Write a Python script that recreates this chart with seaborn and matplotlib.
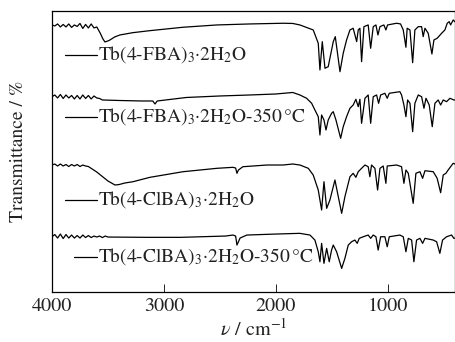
import matplotlib
matplotlib.use("Agg")
import matplotlib.pyplot as plt
import seaborn as sns

# -----------------------------
# Data
# wavenumber (cm-1) and stacked transmittance (a.u.)
# -----------------------------

fba_wn = [4000, 3975, 3950, 3925, 3900, 3875, 3850, 3825, 3800, 3775, 3750, 3725, 3700, 3675,
          3650, 3625, 3600, 3570, 3545, 3527, 3500, 3482, 3440, 3393, 3277, 3125, 2830, 2527,
          2232, 1937, 1850, 1786, 1667, 1622, 1607, 1586, 1562, 1533, 1488, 1470, 1428, 1399,
          1369, 1339, 1310, 1279, 1265, 1250, 1235, 1214, 1176, 1154, 1131, 1107, 1089, 1071,
          1036, 1018, 1003, 922, 887, 863, 839, 828, 803, 779, 759, 729, 699, 685, 669, 640,
          607, 589, 560, 520, 491, 470, 453, 440, 417, 400]
fba_t = [267, 266, 268, 265, 267.5, 265, 268, 264.5, 267, 265.5, 268.5, 263.5, 267.5, 264,
         268, 264, 265, 259, 253, 250, 251, 252, 255, 257, 259.3, 261.3, 264.7, 267,
         268, 268.7, 268.5, 267, 262, 248.7, 222, 250.3, 223.7, 225.3, 250.3, 255.3, 220.3, 238.7,
         252, 262, 263.7, 250.3, 262, 263.7, 230.3, 265.3, 267, 243.7, 265.3, 267, 257, 265.3,
         267, 262, 267, 268.7, 268, 262, 244.7, 263.7, 262, 229.3, 262, 265.3, 265.3, 255.3, 263.7, 258.7,
         238, 252, 253.7, 258.7, 262, 268.7, 270.3, 267, 272, 270]

fba350_wn = [4000, 3975, 3950, 3925, 3900, 3875, 3850, 3825, 3800, 3775, 3750, 3725, 3700, 3675,
             3650, 3625, 3600, 3575, 3550, 3400, 3200, 3100, 3080, 3060, 2800, 2500, 2232, 2000,
             1850, 1786, 1726, 1681, 1652, 1622, 1607, 1592, 1571, 1553, 1533, 1503, 1488, 1464,
             1422, 1399, 1369, 1339, 1310, 1286, 1265, 1250, 1235, 1205, 1176, 1154, 1131, 1101,
             1083, 1065, 1027, 1006, 988, 893, 878, 857, 839, 824, 803, 779, 759, 729, 699, 678,
             660, 631, 604, 580, 551, 529, 506, 476, 446, 411, 400]
fba350_t = [195.3, 197, 194, 197.5, 193.5, 197, 194, 196.5, 193, 196.5, 193, 197, 193.5, 196.5,
            193, 196, 194, 193.5, 192, 191.5, 191, 191, 188, 191, 194.5, 196, 197, 198,
            199.5, 197, 193.7, 188.7, 182, 175.3, 157, 177, 172, 162, 172, 178.7, 180.3, 172,
            153.7, 165.3, 175.3, 183.7, 187, 192.7, 185.3, 192.7, 168.7, 193.7, 197, 168.7, 195.3, 197,
            188.7, 197, 198.7, 193.7, 198.7, 200.3, 197, 187, 175.3, 192, 188.7, 160.3, 188.7, 197, 195.3, 183.7,
            193.7, 187, 165.3, 188.7, 192, 187, 192, 190.3, 193.7, 192, 192]

clba_wn = [4000, 3975, 3950, 3925, 3900, 3875, 3850, 3825, 3800, 3775, 3750, 3725, 3700, 3675,
           3600, 3550, 3500, 3437, 3400, 3350, 3277, 3125, 2830, 2527, 2384, 2360, 2348, 2335,
           2295, 2080, 1937, 1850, 1786, 1711, 1667, 1622, 1592, 1571, 1547, 1518, 1473, 1413,
           1384, 1339, 1310, 1286, 1265, 1235, 1205, 1176, 1161, 1146, 1116, 1092, 1071, 1042,
           1018, 1006, 922, 878, 857, 839, 818, 774, 750, 714, 690, 669, 595, 560, 529, 506,
           482, 462, 440, 417, 400]
clba_t = [127, 128, 126, 128, 126, 127.5, 125.5, 127.5, 126, 127.5, 125.5, 127, 126, 125.5,
          120, 115.5, 111, 107, 107.5, 109, 110.3, 114.7, 120.3, 123.7, 124.7, 124, 118.7, 122,
          125.3, 127, 127, 128, 127, 123.7, 117, 102, 82, 110.3, 83.7, 92, 112, 78.7,
          95.3, 115.3, 118.7, 114.7, 120.3, 123.7, 127, 125.3, 115.3, 127, 123.7, 102, 123.7, 126,
          108.7, 126, 127, 125.3, 108.7, 122, 118.7, 88.7, 118.7, 120.3, 113.7, 121.3, 120.3, 113.7, 99.3, 117,
          118.7, 122, 125.3, 128.7, 128]

clba350_wn = [4000, 3975, 3950, 3925, 3900, 3875, 3850, 3825, 3800, 3775, 3750, 3725, 3700, 3675,
              3650, 3625, 3600, 3575, 3550, 3525, 3500, 3150, 2850, 2450, 2384, 2360, 2348, 2320,
              2260, 2000, 1850, 1786, 1696, 1652, 1622, 1607, 1592, 1571, 1547, 1524, 1503, 1488,
              1458, 1413, 1384, 1354, 1324, 1295, 1274, 1256, 1220, 1176, 1154, 1131, 1107, 1087,
              1065, 1027, 1006, 988, 893, 863, 839, 818, 788, 768, 744, 714, 690, 669, 595, 565,
              536, 512, 476, 431, 411, 400]
clba350_t = [55.3, 57.5, 54, 58, 53.5, 57.5, 54, 57, 54, 56.5, 54, 57, 54.5, 56.5,
             54.5, 56, 55, 56, 54.5, 56, 55, 54.7, 54.7, 56, 57, 56, 47, 54,
             57, 58, 58.5, 58.7, 57, 52, 40.3, 30.3, 48.7, 28.7, 43.7, 30.3, 42, 47,
             40.3, 23.7, 33.7, 47, 50.3, 52, 48.7, 53.7, 55.3, 57, 53.7, 57, 55.3, 42,
             55.3, 55.3, 45.3, 55.3, 57, 55.3, 40.3, 53.7, 52, 30.3, 52, 53.7, 48.7, 53.7, 52, 50.3,
             38.7, 52, 55.3, 57, 53.7, 54]

labels = [
    r"Tb(4-FBA)$_3$·2H$_2$O",
    r"Tb(4-FBA)$_3$·2H$_2$O-350$\,$°C",
    r"Tb(4-ClBA)$_3$·2H$_2$O",
    r"Tb(4-ClBA)$_3$·2H$_2$O-350$\,$°C",
]
xticks = [4000, 3000, 2000, 1000]

# -----------------------------
# Style
# -----------------------------

sns.set_theme(style="ticks")
plt.rcParams["font.family"] = ["STIXGeneral", "Liberation Serif", "DejaVu Serif"]
plt.rcParams["mathtext.fontset"] = "stix"

fig = plt.figure(figsize=(4.56, 3.42), dpi=100)
ax = fig.add_axes([0.114, 0.146, 0.884, 0.822])

traces = [(fba_wn, fba_t), (fba350_wn, fba350_t), (clba_wn, clba_t), (clba350_wn, clba350_t)]
for wn, t in traces:
    sns.lineplot(x=wn, y=t, ax=ax, color="black", linewidth=0.9,
                 sort=False, estimator=None)

# in-plot labels: short line + text
label_y = [237, 175.3, 92, 35.3]
line_start = [3884, 3884, 3884, 3800]
for txt, y, x0 in zip(labels, label_y, line_start):
    ax.plot([x0, 3595], [y, y], color="black", linewidth=0.9)
    ax.text(3592, y, txt, fontsize=14, va="center", ha="left", color="#222222")

ax.set_xlim(4000, 400)
ax.set_ylim(0, 281)
ax.set_xticks(xticks)
ax.set_xticklabels([str(v) for v in xticks])
ax.set_yticks([])
ax.tick_params(axis="x", direction="in", length=5.5, width=0.7, pad=4,
               labelsize=14.5, colors="#222222")

for s in ax.spines.values():
    s.set_linewidth(0.9)
    s.set_color("black")

ax.set_xlabel(r"$\nu$ / cm$^{-1}$", fontsize=14.5, labelpad=2, color="#222222")
ax.set_ylabel("Transmittance / %", fontsize=14, color="#222222")
ax.yaxis.set_label_coords(-0.062, 0.5)

plt.savefig("out.png", dpi=100)
plt.close()
